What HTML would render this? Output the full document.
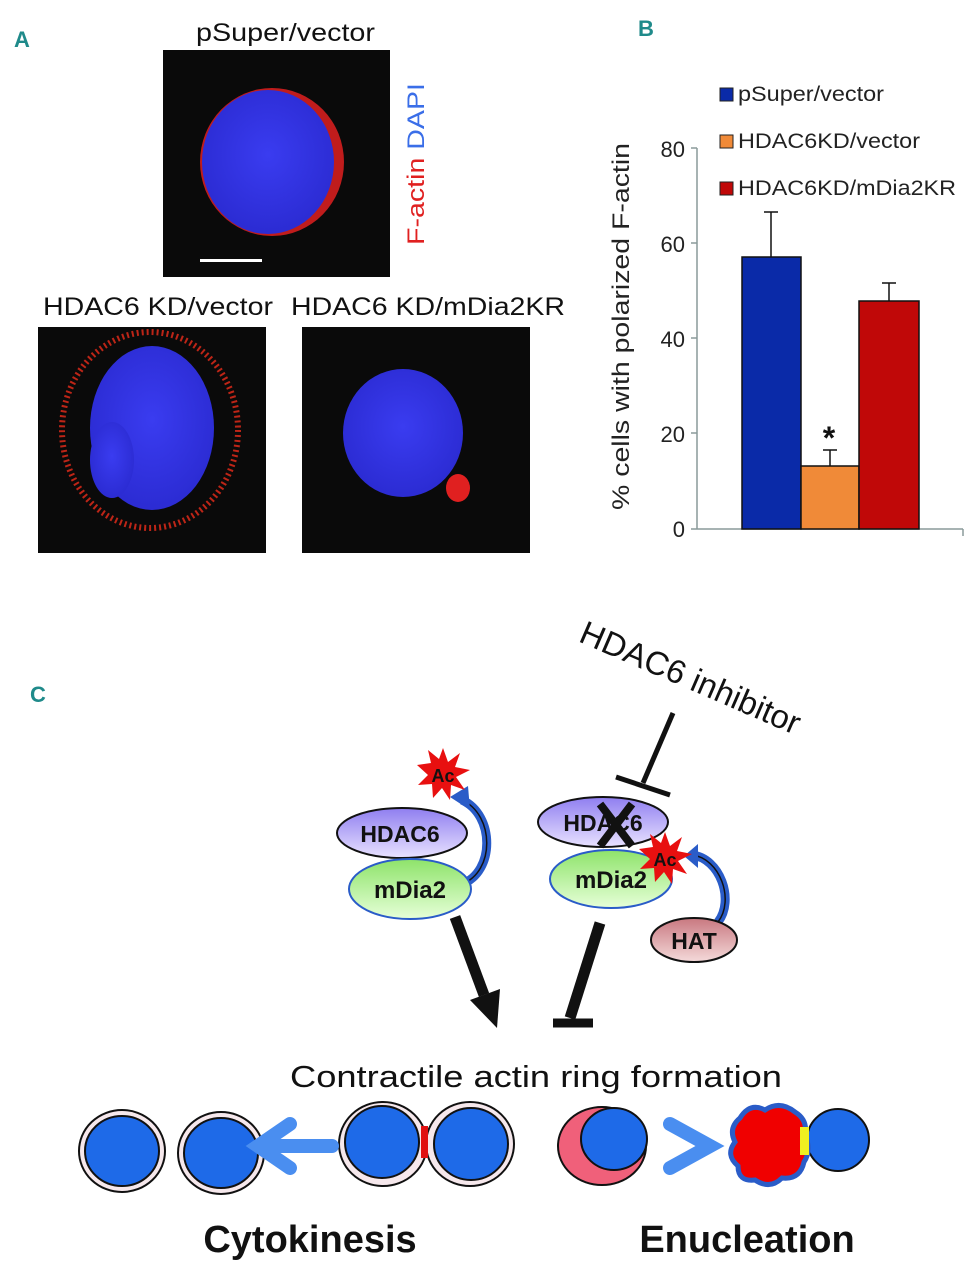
<!DOCTYPE html>
<html><head><meta charset="utf-8"><style>
html,body{margin:0;padding:0;background:#fff;}
svg{display:block;font-family:"Liberation Sans",sans-serif;}
</style></head><body>
<svg width="968" height="1280" viewBox="0 0 968 1280" xmlns="http://www.w3.org/2000/svg">
<defs>
<radialGradient id="nuc" cx="50%" cy="45%" r="60%"><stop offset="0" stop-color="#3a3cf0"/><stop offset="1" stop-color="#2a2ad0"/></radialGradient>
<linearGradient id="gh" x1="0" y1="0" x2="0" y2="1"><stop offset="0" stop-color="#8f7ef0"/><stop offset="1" stop-color="#e8e2ff"/></linearGradient>
<linearGradient id="gm" x1="0" y1="0" x2="0" y2="1"><stop offset="0" stop-color="#8ee36a"/><stop offset="1" stop-color="#e6ffd8"/></linearGradient>
<linearGradient id="gt" x1="0" y1="0" x2="0" y2="1"><stop offset="0" stop-color="#c87880"/><stop offset="1" stop-color="#f4dada"/></linearGradient>
</defs>
<!-- Panel A -->
<text x="14" y="47" font-size="22" font-weight="bold" fill="#1f8a8a">A</text>
<text x="196" y="41" font-size="25" textLength="179" lengthAdjust="spacingAndGlyphs" fill="#111">pSuper/vector</text>
<rect x="163" y="50" width="227" height="227" fill="#0a0a0a"/>
<ellipse cx="272" cy="162" rx="72" ry="74" fill="#e02020" opacity="0.85"/>
<ellipse cx="268" cy="162" rx="66" ry="72" fill="url(#nuc)"/>
<rect x="200" y="259" width="62" height="3" fill="#fff"/>
<text transform="translate(424,245) rotate(-90)" font-size="24" textLength="162" lengthAdjust="spacingAndGlyphs"><tspan fill="#e02020">F-actin </tspan><tspan fill="#3a6ee8">DAPI</tspan></text>
<text x="43" y="315" font-size="25" textLength="230" lengthAdjust="spacingAndGlyphs" fill="#111">HDAC6 KD/vector</text>
<text x="291" y="315" font-size="25" textLength="274" lengthAdjust="spacingAndGlyphs" fill="#111">HDAC6 KD/mDia2KR</text>
<rect x="38" y="327" width="228" height="226" fill="#0a0a0a"/>
<ellipse cx="150" cy="430" rx="88" ry="98" fill="none" stroke="#d02818" stroke-width="6" stroke-dasharray="2 3" opacity="0.9"/>
<ellipse cx="152" cy="428" rx="62" ry="82" fill="url(#nuc)"/>
<ellipse cx="112" cy="460" rx="22" ry="38" fill="url(#nuc)"/>
<rect x="302" y="327" width="228" height="226" fill="#0a0a0a"/>
<ellipse cx="403" cy="433" rx="60" ry="64" fill="url(#nuc)"/>
<ellipse cx="458" cy="488" rx="12" ry="14" fill="#e02020"/>
<!-- Panel B -->
<text x="638" y="36" font-size="22" font-weight="bold" fill="#1f8a8a">B</text>
<rect x="720" y="88" width="13" height="13" fill="#0a2aa8" stroke="#222"/>
<text x="738" y="101" font-size="21" textLength="146" lengthAdjust="spacingAndGlyphs" fill="#222">pSuper/vector</text>
<rect x="720" y="135" width="13" height="13" fill="#f08a38" stroke="#222"/>
<text x="738" y="148" font-size="21" textLength="182" lengthAdjust="spacingAndGlyphs" fill="#222">HDAC6KD/vector</text>
<rect x="720" y="182" width="13" height="13" fill="#c00808" stroke="#222"/>
<text x="738" y="195" font-size="21" textLength="218" lengthAdjust="spacingAndGlyphs" fill="#222">HDAC6KD/mDia2KR</text>
<g stroke="#8a9a9a" stroke-width="1.5"><line x1="697" y1="148" x2="697" y2="529"/><line x1="691" y1="529" x2="963" y2="529"/>
<line x1="691" y1="148" x2="697" y2="148"/><line x1="691" y1="243" x2="697" y2="243"/><line x1="691" y1="338" x2="697" y2="338"/><line x1="691" y1="433" x2="697" y2="433"/><line x1="963" y1="529" x2="963" y2="536"/></g>
<g font-size="22" fill="#222" text-anchor="end"><text x="685" y="157">80</text><text x="685" y="252">60</text><text x="685" y="347">40</text><text x="685" y="442">20</text><text x="685" y="537">0</text></g>
<text transform="translate(629,510) rotate(-90)" font-size="24" textLength="367" lengthAdjust="spacingAndGlyphs" fill="#222">% cells with polarized F-actin</text>
<g stroke="#111" stroke-width="1.5">
<line x1="771" y1="212" x2="771" y2="257"/><line x1="764" y1="212" x2="778" y2="212"/>
<line x1="830" y1="450" x2="830" y2="466"/><line x1="823" y1="450" x2="837" y2="450"/>
<line x1="889" y1="283" x2="889" y2="301"/><line x1="882" y1="283" x2="896" y2="283"/>
<rect x="742" y="257" width="59" height="272" fill="#0a2aa8"/>
<rect x="801" y="466" width="58" height="63" fill="#f08a38"/>
<rect x="859" y="301" width="60" height="228" fill="#c00808"/></g>
<text x="829" y="449" font-size="32" font-weight="bold" text-anchor="middle" fill="#111">*</text>
<!-- Panel C -->
<text x="30" y="702" font-size="22" font-weight="bold" fill="#1f8a8a">C</text>
<text transform="translate(686,688) rotate(23.4)" font-size="33" text-anchor="middle" fill="#111">HDAC6 inhibitor</text>
<line x1="673" y1="713" x2="643" y2="783" stroke="#111" stroke-width="5"/>
<line x1="616" y1="777" x2="670" y2="795" stroke="#111" stroke-width="5"/>
<!-- left complex -->
<path d="M462 884 C495 872 495 815 462 800" fill="none" stroke="#2a5cc8" stroke-width="9"/>
<path d="M462 884 C495 872 495 815 462 800" fill="none" stroke="#111" stroke-width="1.5"/>
<polygon points="450,797 468,786 470,810" fill="#2a5cc8"/>
<ellipse cx="402" cy="833" rx="65" ry="25" fill="url(#gh)" stroke="#111" stroke-width="2"/>
<text x="400" y="842" font-size="23" font-weight="bold" text-anchor="middle" fill="#111">HDAC6</text>
<ellipse cx="410" cy="889" rx="61" ry="30" fill="url(#gm)" stroke="#2a5cc8" stroke-width="2"/>
<text x="410" y="898" font-size="24" font-weight="bold" text-anchor="middle" fill="#111">mDia2</text>
<polygon points="443,748 448,762 460,753 455,767 470,770 456,777 465,790 451,785 450,800 442,788 433,798 432,784 418,785 428,775 417,765 431,763 428,750 439,759" fill="#e81010"/>
<text x="443" y="782" font-size="18" font-weight="bold" text-anchor="middle" fill="#111">Ac</text>
<!-- right complex -->
<ellipse cx="603" cy="822" rx="65" ry="25" fill="url(#gh)" stroke="#111" stroke-width="2"/>
<text x="603" y="831" font-size="23" font-weight="bold" text-anchor="middle" fill="#111">HDAC6</text>
<path d="M600 804 L632 846 M632 804 L600 846" stroke="#111" stroke-width="8"/>
<ellipse cx="611" cy="879" rx="61" ry="29" fill="url(#gm)" stroke="#2a5cc8" stroke-width="2"/>
<text x="611" y="888" font-size="24" font-weight="bold" text-anchor="middle" fill="#111">mDia2</text>
<path d="M718 922 C735 900 720 858 692 855" fill="none" stroke="#2a5cc8" stroke-width="9"/>
<path d="M718 922 C735 900 720 858 692 855" fill="none" stroke="#111" stroke-width="1.5"/>
<polygon points="684,856 698,844 698,868" fill="#2a5cc8"/>
<polygon points="665,832 670,846 682,837 677,851 692,854 678,861 687,874 673,869 672,884 664,872 655,882 654,868 640,869 650,859 639,849 653,847 650,834 661,843" fill="#e81010"/>
<text x="665" y="866" font-size="18" font-weight="bold" text-anchor="middle" fill="#111">Ac</text>
<ellipse cx="694" cy="940" rx="43" ry="22" fill="url(#gt)" stroke="#111" stroke-width="2"/>
<text x="694" y="949" font-size="23" font-weight="bold" text-anchor="middle" fill="#111">HAT</text>
<!-- arrows -->
<line x1="455" y1="917" x2="484" y2="995" stroke="#111" stroke-width="11"/>
<polygon points="470,1000 500,989 497,1028" fill="#111"/>
<line x1="600" y1="923" x2="570" y2="1018" stroke="#111" stroke-width="11"/>
<line x1="553" y1="1023" x2="593" y2="1023" stroke="#111" stroke-width="9"/>
<text x="290" y="1087" font-size="31" textLength="492" lengthAdjust="spacingAndGlyphs" fill="#111">Contractile actin ring formation</text>
<!-- cells -->
<g stroke="#111" stroke-width="2">
<ellipse cx="122" cy="1151" rx="43" ry="41" fill="#f6e8ec"/><ellipse cx="122" cy="1151" rx="37" ry="35" fill="#1e6ae8"/>
<ellipse cx="221" cy="1153" rx="43" ry="41" fill="#f6e8ec"/><ellipse cx="221" cy="1153" rx="37" ry="35" fill="#1e6ae8"/>
<ellipse cx="383" cy="1144" rx="44" ry="42" fill="#f6e8ec"/><ellipse cx="470" cy="1144" rx="44" ry="42" fill="#f6e8ec"/>
<ellipse cx="382" cy="1142" rx="37" ry="36" fill="#1e6ae8"/><ellipse cx="471" cy="1144" rx="37" ry="36" fill="#1e6ae8"/>
<ellipse cx="602" cy="1146" rx="44" ry="39" fill="#f0607a"/><ellipse cx="614" cy="1139" rx="33" ry="31" fill="#1e6ae8"/>
<ellipse cx="838" cy="1140" rx="31" ry="31" fill="#1e6ae8"/>
</g>
<rect x="421" y="1126" width="7" height="32" fill="#e01010"/>
<path d="M290 1124 L258 1146 L290 1168 M260 1146 L332 1146" fill="none" stroke="#4a8ef0" stroke-width="14" stroke-linecap="round"/>
<path d="M670 1124 L710 1146 L670 1168" fill="none" stroke="#4a8ef0" stroke-width="14" stroke-linecap="round"/>
<path d="M740 1118 Q750 1102 765 1110 Q780 1100 795 1112 Q808 1120 805 1135 Q812 1150 804 1162 Q800 1180 782 1178 Q770 1190 755 1180 Q738 1182 738 1166 Q725 1155 735 1142 Q728 1128 740 1118 Z" fill="#f00000" stroke="#2a5cc8" stroke-width="5"/>
<rect x="800" y="1127" width="9" height="28" fill="#f0f020"/>
<text x="310" y="1252" font-size="38" font-weight="bold" text-anchor="middle" fill="#111">Cytokinesis</text>
<text x="747" y="1252" font-size="38" font-weight="bold" text-anchor="middle" fill="#111">Enucleation</text>
</svg>
</body></html>
